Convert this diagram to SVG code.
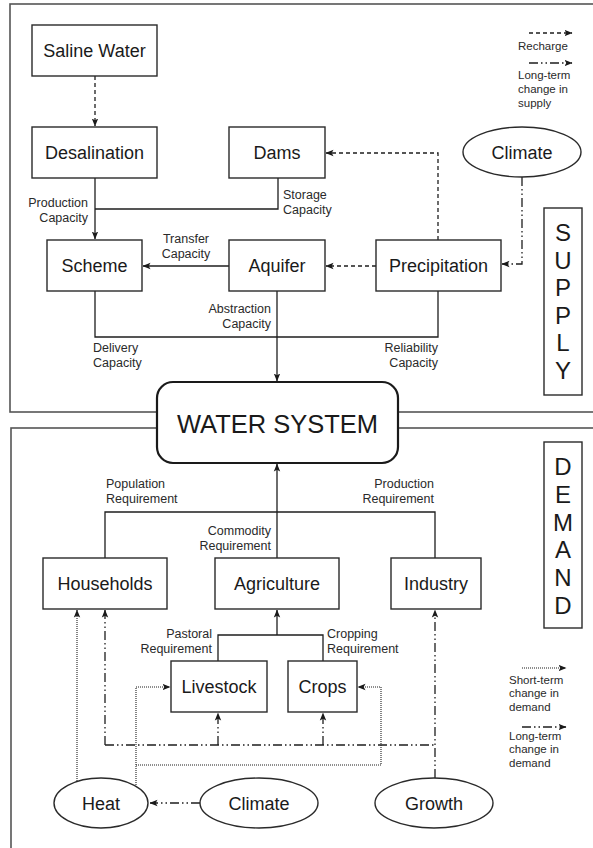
<svg xmlns="http://www.w3.org/2000/svg" width="593" height="848" viewBox="0 0 593 848">
<defs>
<marker id="ah" markerUnits="userSpaceOnUse" markerWidth="8" markerHeight="8" viewBox="0 0 8 8" refX="7.5" refY="4" orient="auto">
<path d="M0,0.8 L8,4 L0,7.2 L1.8,4 Z" fill="#1a1a1a"/>
</marker>
</defs>
<style>
.panel{fill:none;stroke:#555;stroke-width:1.6}
.box{fill:#fff;stroke:#2a2a2a;stroke-width:1.4}
.big{fill:#fff;stroke:#1a1a1a;stroke-width:2.2}
.t{font-family:"Liberation Sans",Arial,sans-serif;font-size:18px;fill:#1a1a1a;text-anchor:middle}
.s{font-family:"Liberation Sans",Arial,sans-serif;font-size:12.5px;fill:#2a2a2a}
.lg{font-family:"Liberation Sans",Arial,sans-serif;font-size:11.5px;fill:#2a2a2a}
.v{font-family:"Liberation Sans",Arial,sans-serif;font-size:24px;fill:#1a1a1a;text-anchor:middle}
.ws{font-family:"Liberation Sans",Arial,sans-serif;font-size:25.5px;fill:#1a1a1a;text-anchor:middle}
.c{fill:none;stroke:#1e1e1e;stroke-width:1.3}
.dash{stroke-dasharray:4,3}
.dot{stroke-dasharray:1,1;stroke-width:1.1}
.dd{stroke-dasharray:9,3,1.5,3,1.5,3}
.e{text-anchor:end}
.m{text-anchor:middle}
</style>
<rect width="593" height="848" fill="#fff"/>
<g id="panels">
<rect class="panel" x="10" y="4" width="600" height="408"/>
<rect class="panel" x="11" y="428" width="600" height="440"/>
</g>
<g id="connectors">
<path class="c dash" d="M95,76 V126" marker-end="url(#ah)"/>
<path class="c" d="M95,178 V239" marker-end="url(#ah)"/>
<path class="c" d="M278,178 V209 H95"/>
<path class="c dash" d="M438,240 V153 H326" marker-end="url(#ah)"/>
<path class="c dd" d="M522,177 V264 H502" marker-end="url(#ah)"/>
<path class="c" d="M229,266 H143" marker-end="url(#ah)"/>
<path class="c dash" d="M376,266 H326" marker-end="url(#ah)"/>
<path class="c" d="M95,291 V337 H438 V291"/>
<path class="c" d="M277,291 V381" marker-end="url(#ah)"/>
<path class="c" d="M277,558 V464" marker-end="url(#ah)"/>
<path class="c" d="M105,558 V512 H435 V558"/>
<path class="c" d="M218,661 V635 H323 V661"/>
<path class="c" d="M277,635 V610" marker-end="url(#ah)"/>
<path class="c dot" d="M77,781 V610" marker-end="url(#ah)"/>
<path class="c dd" d="M435,778 V610" marker-end="url(#ah)"/>
<path class="c dd" d="M105,745 V610" marker-end="url(#ah)"/>
<path class="c dd" d="M105,745 H435"/>
<path class="c dd" d="M218,745 V713" marker-end="url(#ah)"/>
<path class="c dd" d="M323,745 V713" marker-end="url(#ah)"/>
<path class="c dot" d="M136,785 V687 H170" marker-end="url(#ah)"/>
<path class="c dot" d="M136,765 H381 V687 H358" marker-end="url(#ah)"/>
<path class="c dd" d="M200,803 H150" marker-end="url(#ah)"/>
</g>
<g id="legend-supply">
<path class="c dash" d="M529,33 H572" marker-end="url(#ah)"/>
<text class="lg" x="518" y="50">Recharge</text>
<path class="c dd" d="M529,63 H572" marker-end="url(#ah)"/>
<text class="lg" x="518" y="79">Long-term</text>
<text class="lg" x="518" y="93">change in</text>
<text class="lg" x="518" y="107">supply</text>
</g>
<g id="legend-demand">
<path class="c dot" d="M522,668 H566" marker-end="url(#ah)"/>
<text class="lg" x="509" y="684">Short-term</text>
<text class="lg" x="509" y="697">change in</text>
<text class="lg" x="509" y="711">demand</text>
<path class="c dd" d="M522,727 H566" marker-end="url(#ah)"/>
<text class="lg" x="509" y="740">Long-term</text>
<text class="lg" x="509" y="753">change in</text>
<text class="lg" x="509" y="767">demand</text>
</g>
<g id="labels">
<text class="s e" x="88" y="207">Production</text>
<text class="s e" x="88" y="222">Capacity</text>
<text class="s" x="283" y="199">Storage</text>
<text class="s" x="283" y="214">Capacity</text>
<text class="s m" x="186" y="243">Transfer</text>
<text class="s m" x="186" y="258">Capacity</text>
<text class="s e" x="271" y="313">Abstraction</text>
<text class="s e" x="271" y="328">Capacity</text>
<text class="s" x="93" y="352">Delivery</text>
<text class="s" x="93" y="367">Capacity</text>
<text class="s e" x="438" y="352">Reliability</text>
<text class="s e" x="438" y="367">Capacity</text>
<text class="s" x="106" y="488">Population</text>
<text class="s" x="106" y="503">Requirement</text>
<text class="s e" x="434" y="488">Production</text>
<text class="s e" x="434" y="503">Requirement</text>
<text class="s e" x="271" y="535">Commodity</text>
<text class="s e" x="271" y="550">Requirement</text>
<text class="s e" x="212" y="638">Pastoral</text>
<text class="s e" x="212" y="653">Requirement</text>
<text class="s" x="327" y="638">Cropping</text>
<text class="s" x="327" y="653">Requirement</text>
</g>
<g id="saline-water"><rect class="box" x="32" y="25" width="125" height="51"/><text class="t" x="94.5" y="57">Saline Water</text></g>
<g id="desalination"><rect class="box" x="32" y="127" width="125" height="51"/><text class="t" x="94.5" y="159">Desalination</text></g>
<g id="dams"><rect class="box" x="229" y="127" width="96" height="51"/><text class="t" x="277" y="159">Dams</text></g>
<g id="climate-supply"><ellipse class="box" cx="522" cy="152" rx="59" ry="25"/><text class="t" x="522" y="158.5">Climate</text></g>
<g id="scheme"><rect class="box" x="47" y="240" width="95" height="51"/><text class="t" x="94.5" y="272">Scheme</text></g>
<g id="aquifer"><rect class="box" x="229" y="240" width="96" height="51"/><text class="t" x="277" y="272">Aquifer</text></g>
<g id="precipitation"><rect class="box" x="376" y="240" width="125" height="51"/><text class="t" x="438.5" y="272">Precipitation</text></g>
<g id="supply-label"><rect class="box" x="544" y="208" width="38" height="187"/>
<text class="v" x="563" y="241">S</text><text class="v" x="563" y="269">U</text><text class="v" x="563" y="296">P</text><text class="v" x="563" y="324">P</text><text class="v" x="563" y="351">L</text><text class="v" x="563" y="379">Y</text></g>
<g id="water-system"><rect class="big" x="157" y="382" width="241" height="81" rx="16"/><text class="ws" x="277.5" y="433">WATER SYSTEM</text></g>
<g id="demand-label"><rect class="box" x="544" y="442" width="38" height="186"/>
<text class="v" x="563" y="475">D</text><text class="v" x="563" y="503">E</text><text class="v" x="563" y="531">M</text><text class="v" x="563" y="558">A</text><text class="v" x="563" y="586">N</text><text class="v" x="563" y="614">D</text></g>
<g id="households"><rect class="box" x="43" y="558" width="124" height="51"/><text class="t" x="105" y="590">Households</text></g>
<g id="agriculture"><rect class="box" x="215" y="558" width="124" height="51"/><text class="t" x="277" y="590">Agriculture</text></g>
<g id="industry"><rect class="box" x="391" y="558" width="90" height="51"/><text class="t" x="436" y="590">Industry</text></g>
<g id="livestock"><rect class="box" x="171" y="661" width="96" height="51"/><text class="t" x="219" y="693">Livestock</text></g>
<g id="crops"><rect class="box" x="288" y="661" width="69" height="51"/><text class="t" x="322.5" y="693">Crops</text></g>
<g id="heat"><ellipse class="box" cx="101" cy="803" rx="47" ry="25"/><text class="t" x="101" y="809.5">Heat</text></g>
<g id="climate-demand"><ellipse class="box" cx="259" cy="803" rx="59" ry="25"/><text class="t" x="259" y="809.5">Climate</text></g>
<g id="growth"><ellipse class="box" cx="434" cy="803" rx="59" ry="25"/><text class="t" x="434" y="809.5">Growth</text></g>
</svg>
